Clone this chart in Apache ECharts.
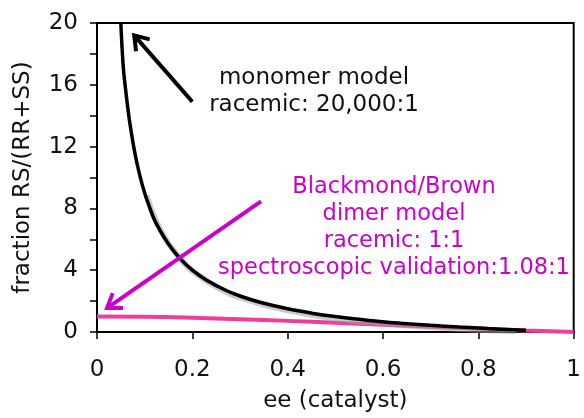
<!DOCTYPE html>
<html>
<head>
<meta charset="UTF-8">
<title>fraction RS/(RR+SS) vs ee</title>
<script src="https://cdn.jsdelivr.net/npm/echarts@6/dist/echarts.min.js"></script>
<style>
    html, body { margin: 0; padding: 0; background: #fff; }
    #chart { width: 584px; height: 418px; }
</style>
</head>
<body>
<div id="chart"></div>
<script>
// monomer model (black curve)
const monoEE = [0.05, 0.055, 0.06, 0.065, 0.07, 0.08, 0.09, 0.1, 0.11, 0.12, 0.13, 0.15, 0.173, 0.2, 0.23, 0.27, 0.3, 0.34, 0.4, 0.45, 0.5, 0.57, 0.65, 0.7, 0.76, 0.82, 0.9];
const monoVal = [20, 17.2, 15.7, 14.4, 13.3, 11.5, 10.1, 9.0, 8.1, 7.3, 6.7, 5.7, 4.8, 4.0, 3.35, 2.7, 2.33, 1.94, 1.5, 1.22, 1.0, 0.75, 0.54, 0.43, 0.32, 0.22, 0.11];
// grey shadow band just below/right of the monomer curve
const shadeEE = [0.104, 0.134, 0.177, 0.204, 0.254, 0.304, 0.404, 0.5, 0.6, 0.7, 0.8, 0.88];
const shadeVal = [8.85, 6.55, 4.65, 3.87, 2.87, 2.2, 1.38, 0.88, 0.55, 0.32, 0.14, 0.05];
// dimer model (pink line)
const dimerEE = [0, 0.1, 0.2, 0.3, 0.4, 0.5, 0.6, 0.7, 0.8, 0.9, 1.0];
const dimerVal = [1.0, 0.98, 0.92, 0.83, 0.72, 0.6, 0.47, 0.34, 0.22, 0.1, 0];
// annotation arrows: [fromEE, fromVal, toEE, toVal]
const arrows = [
    [0.2, 14.9, 0.078, 19.2],
    [0.344, 8.45, 0.021, 1.55]
];
const arrowColors = ['#000000', '#cc00cc'];

const yTicks = [0, 4, 8, 12, 16, 20];

function pairs(xs, ys) {
    return xs.map(function (x, i) { return [x, ys[i]]; });
}

const chart = echarts.init(document.getElementById('chart'));
const font = 'DejaVu Sans';

chart.setOption({
    animation: false,
    grid: {
        left: 97, right: 7, top: 23, bottom: 85,
        show: true, borderColor: '#000', borderWidth: 2
    },
    xAxis: {
        type: 'value', min: 0, max: 1, interval: 0.2,
        name: 'ee (catalyst)', nameLocation: 'middle', nameGap: 58,
        nameTextStyle: { fontFamily: font, fontSize: 23, color: '#111' },
        axisLine: { lineStyle: { color: '#000', width: 2 } },
        axisTick: { show: true, length: 7, lineStyle: { color: '#000', width: 1.5 } },
        axisLabel: { fontFamily: font, fontSize: 23, color: '#111', margin: 27 },
        splitLine: { show: false }
    },
    yAxis: {
        type: 'value', min: 0, max: 20, interval: 2,
        name: 'fraction RS/(RR+SS)', nameLocation: 'middle', nameGap: 62,
        nameTextStyle: { fontFamily: font, fontSize: 23, color: '#111' },
        axisLine: { show: true, lineStyle: { color: '#000', width: 2 } },
        axisTick: { show: true, length: 7, lineStyle: { color: '#000', width: 1.5 } },
        axisLabel: {
            fontFamily: font, fontSize: 23, color: '#111', margin: 19,
            formatter: function (v) { return yTicks.indexOf(v) >= 0 ? String(v) : ''; }
        },
        splitLine: { show: false }
    },
    series: [
        {
            type: 'line', data: pairs(dimerEE, dimerVal), smooth: true, symbol: 'none',
            lineStyle: { color: '#f03c9b', width: 4 }, z: 2
        },
        {
            type: 'line', data: pairs(shadeEE, shadeVal), smooth: true, symbol: 'none',
            lineStyle: { color: 'rgba(160,160,160,0.55)', width: 6 }, z: 3
        },
        {
            type: 'line', data: pairs(monoEE, monoVal), smooth: 0.4, symbol: 'none',
            lineStyle: { color: '#000', width: 3.5 }, z: 4
        },
        {
            type: 'custom', data: arrows, clip: false, z: 5,
            renderItem: function (params, api) {
                const p1 = api.coord([api.value(0), api.value(1)]);
                const p2 = api.coord([api.value(2), api.value(3)]);
                const ang = Math.atan2(p1[1] - p2[1], p1[0] - p2[0]);
                const len = 16, spread = 0.6;
                const a = [p2[0] + len * Math.cos(ang + spread), p2[1] + len * Math.sin(ang + spread)];
                const b = [p2[0] + len * Math.cos(ang - spread), p2[1] + len * Math.sin(ang - spread)];
                const color = arrowColors[params.dataIndex];
                return {
                    type: 'group',
                    children: [
                        { type: 'line', shape: { x1: p1[0], y1: p1[1], x2: p2[0], y2: p2[1] },
                          style: { stroke: color, lineWidth: 4 } },
                        { type: 'polyline', shape: { points: [a, p2, b] },
                          style: { stroke: color, lineWidth: 4, fill: null, lineJoin: 'miter' } }
                    ]
                };
            }
        }
    ],
    graphic: [
        {
            type: 'text', x: 314, y: 65,
            style: {
                text: 'monomer model\nracemic: 20,000:1',
                fontFamily: font, fontSize: 23, lineHeight: 27,
                fill: '#111', align: 'center', verticalAlign: 'top'
            }
        },
        {
            type: 'text', x: 394, y: 174,
            style: {
                text: 'Blackmond/Brown\ndimer model\nracemic: 1:1\nspectroscopic validation:1.08:1',
                fontFamily: font, fontSize: 22.5, lineHeight: 27,
                fill: '#cc00cc', align: 'center', verticalAlign: 'top'
            }
        }
    ]
});
</script>
</body>
</html>
